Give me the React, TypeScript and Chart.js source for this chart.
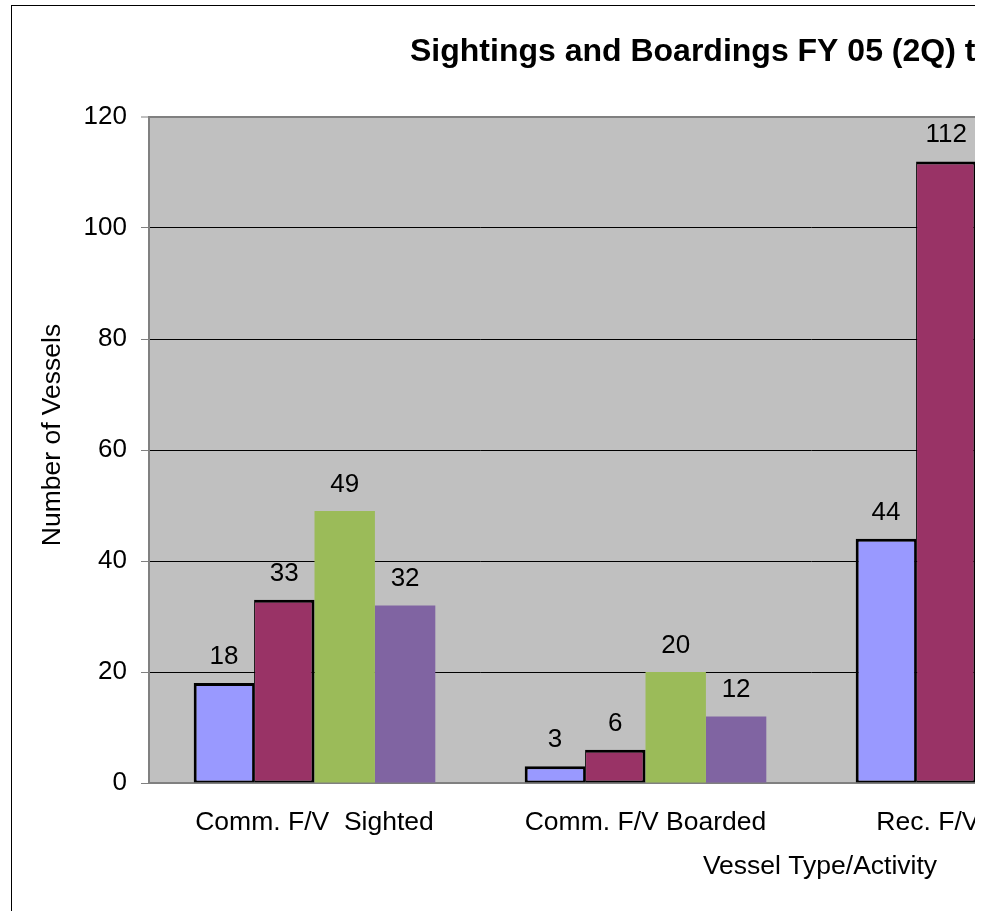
import React, { useEffect, useRef } from "react";
import { Chart, registerables } from "chart.js";

Chart.register(...registerables);

// ---- data ----
const categories = ["Comm. F/V  Sighted", "Comm. F/V Boarded", "Rec. F/V Sighted", "Rec. F/V Boarded"];
const seriesNames = ["FY 05 (2Q)", "FY 06", "FY 07", "FY 08"];
const series1 = [18, 3, 44, 9];
const series2 = [33, 6, 112, 21];
const series3 = [49, 20, 96, 30];
const series4 = [32, 12, 78, 26];
const yMin = 0;
const yMax = 120;
const yStep = 20;
const titleText = "Sightings and Boardings FY 05 (2Q) to FY 08";
const xTitle = "Vessel Type/Activity";
const yTitle = "Number of Vessels";

const FONT = '"Liberation Sans", Arial, Helvetica, sans-serif';
const CANVAS_W = 1700;
const CANVAS_H = 911;

const decor = {
  id: "decor",
  beforeDraw(chart: any) {
    const { ctx, chartArea: a } = chart;
    ctx.save();
    ctx.fillStyle = "#FFFFFF";
    ctx.fillRect(0, 0, chart.width, chart.height);
    ctx.fillStyle = "#C0C0C0";
    ctx.fillRect(a.left, a.top, a.right - a.left, a.bottom - a.top);
    ctx.restore();
  },
  afterDraw(chart: any) {
    const { ctx } = chart;
    ctx.save();
    ctx.fillStyle = "#000000";
    // data labels
    ctx.font = `26px ${FONT}`;
    ctx.textAlign = "center";
    ctx.textBaseline = "alphabetic";
    chart.data.datasets.forEach((ds: any, i: number) => {
      const meta = chart.getDatasetMeta(i);
      meta.data.forEach((el: any, j: number) => {
        ctx.fillText(String(ds.data[j]), el.x, el.y - 19);
      });
    });
    // chart title
    ctx.font = `bold 32px ${FONT}`;
    ctx.textAlign = "left";
    ctx.fillText(titleText, 410, 61);
    // x axis title
    ctx.font = `26.5px ${FONT}`;
    ctx.textAlign = "center";
    ctx.fillText(xTitle, 820, 874);
    // y axis title
    ctx.translate(53, 435);
    ctx.rotate(-Math.PI / 2);
    ctx.textBaseline = "middle";
    ctx.fillText(yTitle, 0, 0);
    ctx.restore();
  },
};

export default function App() {
  const ref = useRef<HTMLCanvasElement | null>(null);

  useEffect(() => {
    if (!ref.current) return;
    const chart = new Chart(ref.current, {
      type: "bar",
      data: {
        labels: categories,
        datasets: [
          {
            label: seriesNames[0],
            data: series1,
            backgroundColor: "#9999FF",
            borderColor: "#000000",
            borderWidth: { left: 3, top: 3, right: 2, bottom: 2 },
            borderSkipped: false,
          },
          {
            label: seriesNames[1],
            data: series2,
            backgroundColor: "#993366",
            borderColor: "#000000",
            borderWidth: { left: 1, top: 3, right: 3, bottom: 2 },
            borderSkipped: false,
          },
          {
            label: seriesNames[2],
            data: series3,
            backgroundColor: "#9BBB59",
            borderWidth: 0,
          },
          {
            label: seriesNames[3],
            data: series4,
            backgroundColor: "#8064A2",
            borderWidth: 0,
          },
        ],
      },
      options: {
        responsive: false,
        animation: false,
        devicePixelRatio: 1,
        layout: { padding: { left: 0, top: 117, right: CANVAS_W - 1473, bottom: 0 } },
        datasets: { bar: { categoryPercentage: 0.73, barPercentage: 1 } },
        plugins: {
          legend: { display: false },
          title: { display: false },
          tooltip: { enabled: false },
        },
        scales: {
          x: {
            afterFit: (s: any) => {
              s.height = CANVAS_H - 783;
            },
            grid: { display: false, drawTicks: false },
            border: { display: true, color: "#808080", width: 2 },
            ticks: {
              color: "#000000",
              font: { family: FONT, size: 26.5 },
              padding: 24,
              maxRotation: 0,
              autoSkip: false,
            },
          },
          y: {
            min: yMin,
            max: yMax,
            afterFit: (s: any) => {
              s.width = 149;
            },
            grid: {
              color: (c: any) =>
                c.tick && (c.tick.value === yMin || c.tick.value === yMax) ? "#808080" : "#000000",
              lineWidth: (c: any) => (c.tick && c.tick.value === yMax ? 2 : 1),
              tickColor: "#808080",
              tickWidth: 1,
              tickLength: 8,
              drawTicks: true,
            },
            border: { display: true, color: "#808080", width: 2 },
            ticks: {
              stepSize: yStep,
              color: "#000000",
              font: { family: FONT, size: 26 },
              padding: 14,
            },
          },
        },
      },
      plugins: [decor],
    });
    return () => chart.destroy();
  }, []);

  return (
    <div
      style={{
        position: "absolute",
        left: 0,
        top: 0,
        width: 975,
        height: 911,
        overflow: "hidden",
        background: "#FFFFFF",
      }}
    >
      <canvas
        ref={ref}
        width={CANVAS_W}
        height={CANVAS_H}
        style={{ position: "absolute", left: 0, top: 0, width: CANVAS_W, height: CANVAS_H }}
      />
      <div
        style={{
          position: "absolute",
          left: 11,
          top: 5,
          width: 2000,
          height: 2000,
          borderLeft: "1px solid #000000",
          borderTop: "1px solid #000000",
          pointerEvents: "none",
        }}
      />
    </div>
  );
}
